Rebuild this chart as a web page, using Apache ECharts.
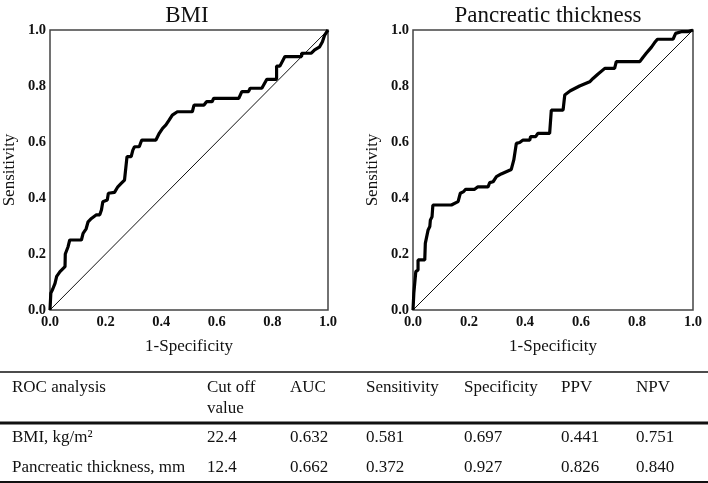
<!DOCTYPE html>
<html>
<head>
<meta charset="utf-8">
<script src="https://cdn.jsdelivr.net/npm/echarts@6/dist/echarts.min.js"></script>
<style>
html,body{margin:0;padding:0;background:#fff;}
#chart{width:708px;height:483px;}
</style>
</head>
<body>
<div id="chart"></div>
<script>
// ---- Data ----
var bmiTitle = 'BMI';
var ptTitle = 'Pancreatic thickness';
var xAxisName = '1-Specificity';
var yAxisName = 'Sensitivity';

// BMI ROC curve: [1-Specificity, Sensitivity]
var bmiRoc = [
  [0,0],[0.003,0.06],[0.01,0.075],[0.018,0.095],[0.024,0.12],[0.036,0.137],[0.054,0.155],
  [0.055,0.2],[0.065,0.226],[0.071,0.25],[0.113,0.25],[0.119,0.274],[0.13,0.29],[0.137,0.315],
  [0.149,0.327],[0.167,0.34],[0.179,0.34],[0.185,0.357],[0.19,0.387],[0.206,0.393],[0.21,0.417],
  [0.232,0.42],[0.244,0.44],[0.256,0.452],[0.268,0.464],[0.274,0.47],[0.277,0.548],[0.292,0.548],
  [0.298,0.571],[0.304,0.583],[0.321,0.583],[0.33,0.607],[0.381,0.607],[0.393,0.631],[0.405,0.649],
  [0.417,0.661],[0.429,0.679],[0.44,0.696],[0.458,0.708],[0.512,0.708],[0.518,0.732],[0.554,0.732],
  [0.563,0.744],[0.583,0.744],[0.589,0.756],[0.679,0.756],[0.69,0.78],[0.714,0.78],[0.72,0.792],
  [0.762,0.792],[0.78,0.824],[0.815,0.824],[0.815,0.871],[0.827,0.871],[0.845,0.905],[0.905,0.905],
  [0.905,0.917],[0.94,0.917],[0.952,0.929],[0.97,0.94],[0.98,0.958],[0.988,0.982],[1,1]
];

// Pancreatic thickness ROC curve: [1-Specificity, Sensitivity]
var ptRoc = [
  [0,0],[0.003,0.06],[0.006,0.06],[0.01,0.137],[0.018,0.143],[0.018,0.179],[0.042,0.179],
  [0.044,0.238],[0.051,0.244],[0.054,0.286],[0.06,0.298],[0.062,0.321],[0.068,0.333],[0.071,0.375],
  [0.137,0.375],[0.161,0.387],[0.169,0.417],[0.181,0.423],[0.188,0.431],[0.22,0.431],[0.232,0.44],
  [0.268,0.44],[0.274,0.455],[0.286,0.458],[0.298,0.476],[0.315,0.486],[0.333,0.494],[0.351,0.502],
  [0.36,0.536],[0.369,0.595],[0.381,0.598],[0.393,0.607],[0.417,0.607],[0.42,0.619],[0.438,0.619],
  [0.446,0.631],[0.488,0.631],[0.494,0.714],[0.536,0.714],[0.542,0.768],[0.55,0.774],[0.562,0.783],
  [0.595,0.8],[0.631,0.815],[0.643,0.827],[0.661,0.843],[0.685,0.863],[0.72,0.863],[0.726,0.887],
  [0.81,0.887],[0.821,0.902],[0.833,0.917],[0.851,0.938],[0.863,0.955],[0.873,0.967],[0.929,0.967],
  [0.938,0.988],[0.958,0.994],[0.982,0.994],[1,1]
];

var refLine = [[0,0],[1,1]];
var axisTicks = [0, 0.2, 0.4, 0.6, 0.8, 1.0];

// Table
var tableHeader = ['ROC analysis', 'Cut off\nvalue', 'AUC', 'Sensitivity', 'Specificity', 'PPV', 'NPV'];
var rowBmi = ['BMI, kg/m\u00B2', '22.4', '0.632', '0.581', '0.697', '0.441', '0.751'];
var rowPt = ['Pancreatic thickness, mm', '12.4', '0.662', '0.372', '0.927', '0.826', '0.840'];

// ---- Rendering ----
var FONT = '"Liberation Serif", "Times New Roman", serif';
var colX = [12, 207, 290, 366, 464, 561, 636];

function axisX(gi) {
  return {
    type: 'value', gridIndex: gi, min: 0, max: 1, interval: 0.2,
    name: xAxisName, nameLocation: 'middle', nameGap: 28,
    nameTextStyle: {fontFamily: FONT, fontSize: 17, color: '#111'},
    axisLine: {show: false}, axisTick: {show: false}, splitLine: {show: false},
    axisLabel: {fontFamily: FONT, fontSize: 14.5, fontWeight: 'bold', color: '#111', margin: 5,
      formatter: function (v) { return v.toFixed(1); }}
  };
}
function axisY(gi) {
  return {
    type: 'value', gridIndex: gi, min: 0, max: 1, interval: 0.2,
    name: yAxisName, nameLocation: 'middle', nameGap: 32,
    nameTextStyle: {fontFamily: FONT, fontSize: 17, color: '#111'},
    axisLine: {show: false}, axisTick: {show: false}, splitLine: {show: false},
    axisLabel: {fontFamily: FONT, fontSize: 14.5, fontWeight: 'bold', color: '#111', margin: 4,
      formatter: function (v) { return v.toFixed(1); }}
  };
}

var graphics = [];
function hline(y, w) {
  graphics.push({type: 'line', shape: {x1: 0, y1: y, x2: 708, y2: y},
    style: {stroke: '#111', lineWidth: w}});
}
function row(cells, yTop) {
  cells.forEach(function (t, i) {
    graphics.push({type: 'text', x: colX[i], y: yTop,
      style: {text: t, fontFamily: FONT, fontSize: 17, fill: '#111',
        verticalAlign: 'top', align: 'left', lineHeight: 21}});
  });
}
hline(372, 1.5);
row(tableHeader, 377);
hline(423, 3);
row(rowBmi, 427);
row(rowPt, 457);
hline(482, 2);

var chart = echarts.init(document.getElementById('chart'), null, {renderer: 'canvas'});
chart.setOption({
  backgroundColor: '#fff',
  animation: false,
  title: [
    {text: bmiTitle, left: 182, top: -1, textAlign: 'center',
      textStyle: {fontFamily: FONT, fontSize: 23, fontWeight: 'normal', color: '#111'}},
    {text: ptTitle, left: 543, top: -1, textAlign: 'center',
      textStyle: {fontFamily: FONT, fontSize: 23, fontWeight: 'normal', color: '#111'}}
  ],
  grid: [
    {left: 48, top: 30, width: 280, height: 280, show: true, borderColor: '#444', borderWidth: 1.5, backgroundColor: 'transparent'},
    {left: 413, top: 30, width: 280, height: 280, show: true, borderColor: '#444', borderWidth: 1.5, backgroundColor: 'transparent'}
  ],
  xAxis: [axisX(0), axisX(1)],
  yAxis: [axisY(0), axisY(1)],
  series: [
    {type: 'line', xAxisIndex: 0, yAxisIndex: 0, data: refLine, symbol: 'none',
      lineStyle: {color: '#111', width: 1}},
    {type: 'line', xAxisIndex: 0, yAxisIndex: 0, data: bmiRoc, symbol: 'none',
      lineStyle: {color: '#000', width: 3.2}},
    {type: 'line', xAxisIndex: 1, yAxisIndex: 1, data: refLine, symbol: 'none',
      lineStyle: {color: '#111', width: 1}},
    {type: 'line', xAxisIndex: 1, yAxisIndex: 1, data: ptRoc, symbol: 'none',
      lineStyle: {color: '#000', width: 3.2}}
  ],
  graphic: graphics
});
</script>
</body>
</html>
